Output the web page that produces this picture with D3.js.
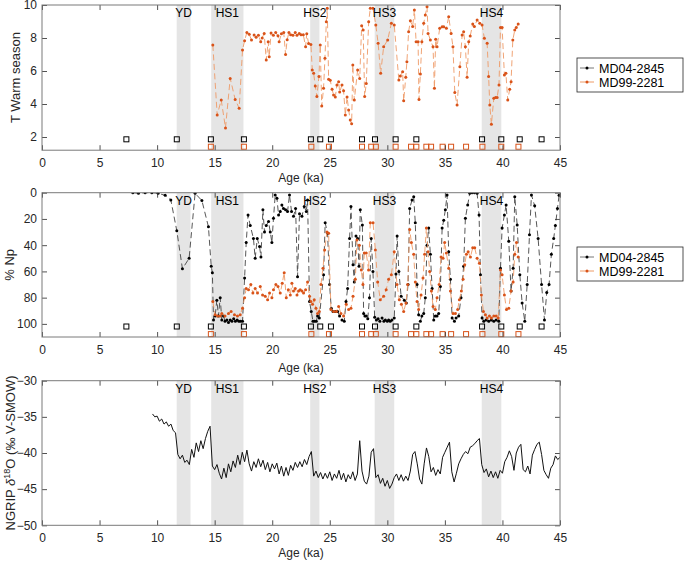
<!DOCTYPE html>
<html>
<head>
<meta charset="utf-8">
<script src="https://cdn.jsdelivr.net/npm/d3@7"></script>
<style>
  body { margin: 0; background: #fff; }
  svg { font-family: 'Liberation Sans', Arial, sans-serif; }
</style>
</head>
<body>
<svg id="chart" width="685" height="561"></svg>
<script>

// stadial / Heinrich bands (ka)
const events = [
  { name: 'YD',  from: 11.7, to: 12.9 },
  { name: 'HS1', from: 14.7, to: 17.5 },
  { name: 'HS2', from: 23.3, to: 24.1 },
  { name: 'HS3', from: 28.9, to: 30.6 },
  { name: 'HS4', from: 38.2, to: 39.9 }
]

const seriesNames = ['MD04-2845', 'MD99-2281']

// age control points of each core
const tie04 = [7.33, 11.71, 14.67, 17.54, 23.36, 24.17, 25.1, 27.8, 28.93, 30.72, 32.52, 38.23, 39.9, 41.5, 43.4]
const tie99 = [14.67, 17.54, 23.4, 24.93, 27.8, 28.6, 29.0, 30.72, 32.06, 32.52, 33.39, 33.8, 34.8, 35.54, 36.84, 38.26, 39.9, 41.39]

// MD99-2281 warm season temperature [age, T]
const tWarm99 = [
  [14.84,7.58],[15.22,3.33],[15.57,4.24],[15.94,2.55],[16.35,5.55],[16.78,4.28],[17.13,3.74],[17.42,7.27],
  [17.6,7.84],[17.8,8.34],[18.0,8.22],[18.2,7.88],[18.43,8.18],[18.6,8.04],[18.8,8.16],[19.0,7.78],
  [19.13,8.0],[19.3,8.28],[19.48,6.67],[19.65,7.78],[19.74,6.87],[19.9,8.3],[20.1,8.16],[20.3,8.33],
  [20.5,8.13],[20.6,7.78],[20.8,8.26],[21.0,8.33],[21.16,7.0],[21.3,7.9],[21.45,8.33],[21.6,8.2],
  [21.8,8.16],[22.0,8.33],[22.15,8.16],[22.35,8.27],[22.5,8.2],[22.7,8.2],[22.9,7.47],[23.0,8.26],
  [23.16,7.67],[23.36,7.6],[23.48,6.06],[23.6,5.86],[23.74,5.09],[23.88,4.45],[24.06,5.66],[24.17,7.58],
  [24.3,3.88],[24.46,4.95],[24.58,6.77],[24.7,8.99],[24.78,9.8],[24.9,5.5],[25.04,5.44],[25.2,4.89],
  [25.33,4.55],[25.48,4.42],[25.62,5.15],[25.77,5.35],[25.86,4.73],[26.06,5.15],[26.2,4.8],[26.35,3.33],
  [26.5,4.42],[26.64,3.64],[26.78,3.03],[26.9,2.8],[27.0,6.36],[27.13,4.24],[27.42,6.06],[27.6,5.55],
  [27.77,8.75],[27.9,8.48],[28.03,4.45],[28.17,5.25],[28.38,8.99],[28.52,9.8],[28.75,9.8],[29.0,8.79],
  [29.2,7.68],[29.42,5.86],[29.68,7.47],[30.03,7.88],[30.35,8.89],[30.6,8.79],[31.0,5.45],[31.13,5.7],
  [31.33,5.96],[31.42,4.2],[31.6,5.62],[31.7,6.56],[31.85,8.38],[32.0,9.05],[32.2,8.69],[32.35,9.7],
  [32.5,7.78],[32.67,7.78],[32.75,4.28],[32.87,5.82],[33.0,7.78],[33.16,8.89],[33.3,9.39],[33.45,9.9],
  [33.54,8.28],[33.74,7.88],[33.97,7.47],[34.09,4.95],[34.2,7.92],[34.32,7.47],[34.55,8.59],[34.76,8.68],
  [34.9,8.68],[35.13,8.59],[35.33,9.29],[35.54,8.28],[35.7,7.47],[35.86,4.69],[36.06,3.94],[36.3,6.26],
  [36.5,8.18],[36.63,8.38],[36.78,7.47],[36.93,5.62],[37.07,7.78],[37.2,8.12],[37.42,8.85],[37.56,8.69],
  [37.8,9.09],[38.03,8.89],[38.23,8.79],[38.43,7.98],[38.67,7.68],[38.8,5.66],[38.9,3.94],[39.04,2.77],
  [39.25,4.35],[39.4,4.39],[39.54,4.39],[39.7,5.15],[39.83,8.64],[39.97,8.64],[40.17,5.76],[40.3,5.86],
  [40.46,4.24],[40.63,4.89],[40.75,5.35],[40.9,7.88],[41.07,8.48],[41.2,8.64],[41.37,8.85]
]

// % N. pachyderma [age, %]
const np04 = [
  [7.89,0],[8.38,0.5],[8.96,0],[9.54,0],[10.09,0.5],[10.7,2],[11.19,5.5],[11.71,29],[12.2,58],[12.78,50],
  [13.3,0.5],[13.89,6],[14.46,26],[14.7,56],[14.8,61],[14.9,97],[15.04,94],[15.19,82],[15.33,94],[15.48,80],
  [15.62,97],[15.77,94],[15.9,98],[16.06,97],[16.2,99],[16.35,97],[16.5,98],[16.65,96],[16.8,98],[16.95,97],
  [17.1,98],[17.25,98],[17.42,98],[17.6,65],[17.74,38],[17.9,17],[18.09,25],[18.37,35],[18.52,50],[18.7,35],
  [18.9,41],[19.02,49],[19.19,13],[19.33,30],[19.48,25],[19.68,22],[19.83,30],[19.97,38],[20.11,19.5],[20.26,1.7],
  [20.41,4.3],[20.55,17],[20.7,14.4],[20.84,9.4],[20.98,12],[21.16,13],[21.33,14.4],[21.5,1.7],[21.68,14.4],[21.85,18],
  [22.03,12],[22.2,64],[22.37,16],[22.58,18],[22.78,10.6],[22.96,14.4],[23.07,5.5],[23.24,83],[23.39,90.5],[23.54,98],
  [23.68,98],[23.83,98],[23.94,94],[24.09,95.5],[24.46,62.6],[24.6,23],[24.81,31],[24.98,70],[25.13,88],[25.28,90.5],
  [25.48,90.5],[25.68,90.5],[25.85,94],[26.06,97],[26.26,98],[26.41,83],[26.55,73],[26.72,35],[26.84,10.6],[27.02,55],
  [27.13,68],[27.28,33],[27.42,35],[27.54,56],[27.65,13],[27.83,24.6],[27.94,92],[28.05,94],[28.17,94],[28.3,96],
  [28.45,80],[28.6,35],[28.75,60],[28.9,95],[29.05,97],[29.2,96],[29.35,98],[29.54,95.5],[29.7,98],[29.83,97],
  [30.0,98],[30.11,97],[30.25,98],[30.4,97],[30.6,95.5],[30.75,62],[30.85,33],[31.0,60],[31.2,79],[31.48,82],
  [31.65,84],[31.8,70],[31.94,12],[32.15,5.5],[32.29,3],[32.43,23],[32.58,70],[32.72,93],[32.87,98],[33.0,94],
  [33.16,92],[33.3,80],[33.45,40],[33.59,27],[33.74,47],[33.89,73],[34.03,97],[34.17,94],[34.32,94],[34.46,92],
  [34.61,71.5],[34.76,27],[34.9,21],[35.04,13],[35.19,1.7],[35.33,45],[35.48,66],[35.63,95.5],[35.83,98],[35.97,95.5],
  [36.2,94],[36.4,80],[36.63,56],[36.78,19.5],[36.98,9.4],[37.16,0.5],[37.36,0],[37.57,0],[37.8,0.5],[37.97,17],
  [38.09,62.6],[38.23,95.5],[38.38,98],[38.58,97],[38.81,98],[39.04,97],[39.25,98],[39.45,97],[39.68,98],[39.83,57.5],
  [39.97,27],[40.17,17],[40.32,9.4],[40.55,37],[40.75,75],[40.93,57.5],[41.07,3],[41.28,24.6],[41.51,62.6],[41.71,84],
  [41.94,98],[42.15,70],[42.35,32],[42.52,1.7],[42.8,10],[43.1,35],[43.4,70],[43.65,97],[43.85,76],[44.05,70],
  [44.25,47],[44.45,35],[44.6,25],[44.78,12],[44.92,2]
]

const np99 = [
  [14.84,83],[15.04,93],[15.25,94],[15.48,94],[15.62,92],[15.9,94],[16.2,92],[16.43,90.5],[16.72,93],[16.98,94],
  [17.22,93],[17.42,88],[17.6,80],[17.74,73],[17.94,74],[18.14,70],[18.32,76.5],[18.52,73],[18.72,76.5],[18.96,71.5],
  [19.16,78],[19.39,79],[19.6,81.6],[19.77,76.5],[19.97,80],[20.11,74],[20.32,70],[20.5,71.5],[20.7,76.5],[20.87,69],
  [21.04,61],[21.22,80],[21.4,74],[21.57,78],[21.71,69],[21.85,75],[22.0,73],[22.15,78],[22.29,75],[22.43,74],
  [22.58,75],[22.72,76.5],[22.9,74],[23.07,68],[23.24,79],[23.36,83],[23.5,85],[23.65,81.6],[23.8,88],[23.94,92],
  [24.09,90.5],[24.23,70],[24.41,57.5],[24.55,43.6],[24.76,30],[24.9,31],[25.1,89],[25.33,90.5],[25.57,90.5],[25.77,86.7],
  [25.97,92],[26.2,94],[26.43,85],[26.64,89],[26.84,88],[27.02,79],[27.22,66],[27.36,36],[27.57,40],[27.74,59],
  [27.88,70],[28.0,46],[28.17,46],[28.37,59],[28.52,23],[28.76,23],[28.96,43.6],[29.16,68],[29.39,81.6],[29.68,79],
  [29.9,74],[30.11,66],[30.35,62.6],[30.6,45],[30.84,70],[31.04,81.6],[31.22,85],[31.42,90.5],[31.62,84],[31.77,70],
  [31.94,28],[32.09,38],[32.29,47],[32.43,68],[32.58,83],[32.72,89],[32.93,78],[33.1,65],[33.24,47],[33.39,27],
  [33.54,45],[33.68,60],[33.83,75],[33.97,86.7],[34.17,89],[34.32,80],[34.5,70],[34.67,49],[34.84,50],[34.98,38],
  [35.13,46],[35.33,57.5],[35.48,75],[35.71,92],[35.91,92],[36.11,89],[36.26,81.6],[36.43,75],[36.58,66],[36.72,55],
  [36.87,47],[37.02,45],[37.22,49],[37.42,42],[37.59,42],[37.8,50],[38.0,53.7],[38.17,78],[38.35,90.5],[38.52,93],
  [38.67,95.5],[38.87,94],[39.04,95.5],[39.25,94],[39.45,94],[39.63,95.5],[39.83,59],[39.97,62.6],[40.17,78],[40.35,89],
  [40.55,88],[40.75,75],[40.93,68],[41.07,47],[41.22,38],[41.37,49]
]

// NGRIP d18O, one value every 0.2 ka from 9.6 ka
const ngripStart = 9.6, ngripStep = 0.2
const ngripD18O = [
  -34.6,-35.0,-34.9,-35.6,-35.3,-36.0,-35.7,-36.3,-36.0,-36.9,
  -37.2,-40.2,-40.8,-40.3,-41.3,-41.0,-41.6,-39.5,-40.6,-38.6,
  -39.8,-38.3,-39.4,-38.0,-37.0,-36.3,-41.8,-42.3,-41.6,-42.8,
  -43.6,-42.1,-43.4,-41.5,-42.6,-41.1,-42.0,-40.3,-41.6,-39.9,
  -41.2,-39.6,-41.5,-42.5,-41.2,-42.0,-40.8,-41.9,-41.0,-42.3,
  -41.3,-42.6,-41.5,-42.2,-41.4,-42.9,-41.8,-43.2,-42.0,-43.1,
  -41.7,-42.4,-41.3,-42.0,-41.2,-41.9,-40.9,-41.6,-40.5,-39.8,
  -43.2,-42.5,-43.4,-42.7,-43.6,-42.8,-43.5,-42.6,-43.8,-42.9,
  -43.5,-42.4,-43.7,-42.8,-44.0,-43.0,-43.6,-42.6,-43.8,-42.9,
  -38.3,-42.5,-43.9,-44.3,-43.2,-39.9,-39.4,-43.4,-43.0,-44.2,
  -43.5,-44.6,-43.8,-44.9,-44.3,-43.4,-42.9,-43.8,-43.0,-43.9,
  -43.2,-43.8,-42.5,-40.2,-39.8,-41.5,-43.6,-44.3,-41.5,-39.3,
  -40.5,-42.6,-42.0,-43.1,-42.3,-42.9,-40.6,-39.9,-39.2,-38.5,
  -42.6,-44.0,-42.8,-41.5,-40.8,-40.2,-39.8,-40.1,-39.2,-39.0,
  -38.7,-38.3,-38.0,-41.6,-42.7,-42.2,-43.3,-42.5,-43.4,-42.6,
  -43.5,-42.4,-42.8,-41.2,-40.6,-39.7,-40.5,-42.4,-40.0,-39.2,
  -38.8,-42.3,-42.6,-41.8,-42.9,-40.3,-39.5,-38.8,-38.5,-40.2,
  -42.4,-43.0,-43.5,-42.1,-41.6,-40.4,-40.9,-40.6
]

const xTicks = [0, 5, 10, 15, 20, 25, 30, 35, 40, 45]

const black = '#000', blackLine = '#444'
const orange = '#d95319', orangeLine = '#ee9a66'

let svg = d3.select('#chart')

let x = d3.scaleLinear().domain([0, 45]).range([42, 560])

let panels = [
  { top: 5, bottom: 150.2, domain: [1.2, 10], ticks: [2, 4, 6, 8, 10],
    label: 'T Warm season', labelX: 20, ageY: 181.7,
    tieY: [1.86, 1.41], legendY: 58 },
  { top: 192.7, bottom: 337, domain: [110, 0], ticks: [0, 20, 40, 60, 80, 100],
    label: '% Np', labelX: 14, ageY: 371.7,
    tieY: [102, 107.8], legendY: 247 },
  { top: 380.7, bottom: 525.3, domain: [-50, -30], ticks: [-50, -45, -40, -35, -30],
    label: null, labelX: 15, ageY: 556.5 }
]

panels.forEach((p, i) => {
  // domain is listed bottom -> top
  p.y = d3.scaleLinear().domain(p.domain).range([p.bottom, p.top])
  p.g = svg.append('g').attr('class', 'panel panel-' + i)

  p.g.append('clipPath')
      .attr('id', 'clip' + i)
    .append('rect')
      .attr('x', x(0))
      .attr('y', p.top)
      .attr('width', x(45) - x(0))
      .attr('height', p.bottom - p.top)

  p.g.selectAll('rect.band')
    .data(events)
    .enter().append('rect')
      .attr('class', 'band')
      .attr('x', d => x(d.from))
      .attr('y', p.top)
      .attr('width', d => x(d.to) - x(d.from))
      .attr('height', p.bottom - p.top)
      .style('fill', '#e5e5e5')

  p.plot = p.g.append('g').attr('clip-path', `url(#clip${ i })`)
})

function drawSeries(p, data, lineColor, dotColor) {
  let line = d3.line()
    .x(d => x(d[0]))
    .y(d => p.y(d[1]))

  p.plot.append('path')
    .datum(data)
      .attr('d', line)
      .style('fill', 'none')
      .style('stroke', lineColor)
      .style('stroke-width', 0.9)
      .style('stroke-dasharray', '6,3.5')

  p.plot.selectAll(null)
    .data(data)
    .enter().append('circle')
      .attr('cx', d => x(d[0]))
      .attr('cy', d => p.y(d[1]))
      .attr('r', 1.5)
      .style('fill', dotColor)
}

function drawTies(p, ages, value, color) {
  p.g.selectAll(null)
    .data(ages)
    .enter().append('rect')
      .attr('x', d => x(d) - 2.5)
      .attr('y', p.y(value) - 2.5)
      .attr('width', 5)
      .attr('height', 5)
      .style('fill', 'none')
      .style('stroke', color)
      .style('stroke-width', 1)
}

// panel 1: temperature
drawSeries(panels[0], tWarm99, orangeLine, orange)
drawTies(panels[0], tie04, panels[0].tieY[0], black)
drawTies(panels[0], tie99, panels[0].tieY[1], orange)

// panel 2: % Np
drawSeries(panels[1], np04, blackLine, black)
drawSeries(panels[1], np99, orangeLine, orange)
drawTies(panels[1], tie04, panels[1].tieY[0], black)
drawTies(panels[1], tie99, panels[1].tieY[1], orange)

// panel 3: NGRIP
let ngrip = ngripD18O.map((v, i) => [ngripStart + i * ngripStep, v])
panels[2].plot.append('path')
  .datum(ngrip)
    .attr('d', d3.line().x(d => x(d[0])).y(d => panels[2].y(d[1])))
    .style('fill', 'none')
    .style('stroke', '#111')
    .style('stroke-width', 1)

// axes, box, labels
panels.forEach((p, i) => {
  let g = p.g

  g.selectAll('text.event')
    .data(events)
    .enter().append('text')
      .attr('class', 'event')
      .attr('x', d => x((d.from + d.to) / 2))
      .attr('y', p.top + 12)
      .attr('text-anchor', 'middle')
      .style('font-size', '12px')
      .style('fill', '#000')
      .text(d => d.name)

  let axes = [
    [d3.axisBottom(x).tickValues(xTicks), `translate(0,${ p.bottom })`, true],
    [d3.axisTop(x).tickValues(xTicks).tickFormat(''), `translate(0,${ p.top })`, false],
    [d3.axisLeft(p.y).tickValues(p.ticks), `translate(${ x(0) },0)`, true],
    [d3.axisRight(p.y).tickValues(p.ticks).tickFormat(''), `translate(${ x(45) },0)`, false]
  ]

  axes.forEach(([axis, tr, labelled], k) => {
    let a = g.append('g')
        .attr('transform', tr)
        .call(axis.tickSizeInner(-5).tickSizeOuter(0).tickPadding(labelled ? 8 : 0))
    a.select('.domain').remove()
    a.selectAll('line').style('stroke', '#262626').style('stroke-width', 0.8)
    a.selectAll('text')
      .style('font-family', "'Liberation Sans', Arial, sans-serif")
      .style('font-size', '12px')
      .style('fill', '#262626')
    if (k === 2) a.selectAll('text').attr('x', -5)
  })

  g.append('rect')
      .attr('x', x(0))
      .attr('y', p.top)
      .attr('width', x(45) - x(0))
      .attr('height', p.bottom - p.top)
      .style('fill', 'none')
      .style('stroke', '#7a7a7a')
      .style('stroke-width', 1)

  g.append('text')
      .attr('x', (x(0) + x(45)) / 2)
      .attr('y', p.ageY)
      .attr('text-anchor', 'middle')
      .style('font-size', '12px')
      .style('fill', '#262626')
      .text('Age (ka)')

  let yl = g.append('text')
      .attr('transform', `translate(${ p.labelX },${ (p.top + p.bottom) / 2 }) rotate(-90)`)
      .attr('text-anchor', 'middle')
      .style('font-size', '13px')
      .style('fill', '#262626')

  if (p.label) {
    yl.text(p.label)
  } else {
    yl.append('tspan').text('NGRIP ')
    yl.append('tspan').style('font-style', 'italic').text('\u03B4')
    yl.append('tspan').attr('dy', -5).style('font-size', '9px').text('18')
    yl.append('tspan').attr('dy', 5).text('O (\u2030 V-SMOW)')
  }

  // legend
  if (p.legendY !== undefined) {
    let lg = svg.append('g')
        .attr('class', 'legend')
        .attr('transform', `translate(577,${ p.legendY })`)

    lg.append('rect')
        .attr('width', 106)
        .attr('height', 34)
        .style('fill', '#fff')
        .style('stroke', '#262626')
        .style('stroke-width', 0.8)

    let items = lg.selectAll('g.item')
      .data(seriesNames)
      .enter().append('g')
        .attr('class', 'item')
        .attr('transform', (d, j) => `translate(0,${ 10 + j * 14 })`)

    items.append('line')
        .attr('x1', 3).attr('x2', 17)
        .style('stroke', (d, j) => j ? orangeLine : '#777')
        .style('stroke-width', 1)

    items.append('circle')
        .attr('cx', 10)
        .attr('r', 1.5)
        .style('fill', (d, j) => j ? orange : black)

    items.append('text')
        .attr('x', 22)
        .attr('dy', '0.36em')
        .style('font-size', '12.5px')
        .style('fill', '#000')
        .text(d => d)
  }
})

</script>
</body>
</html>
